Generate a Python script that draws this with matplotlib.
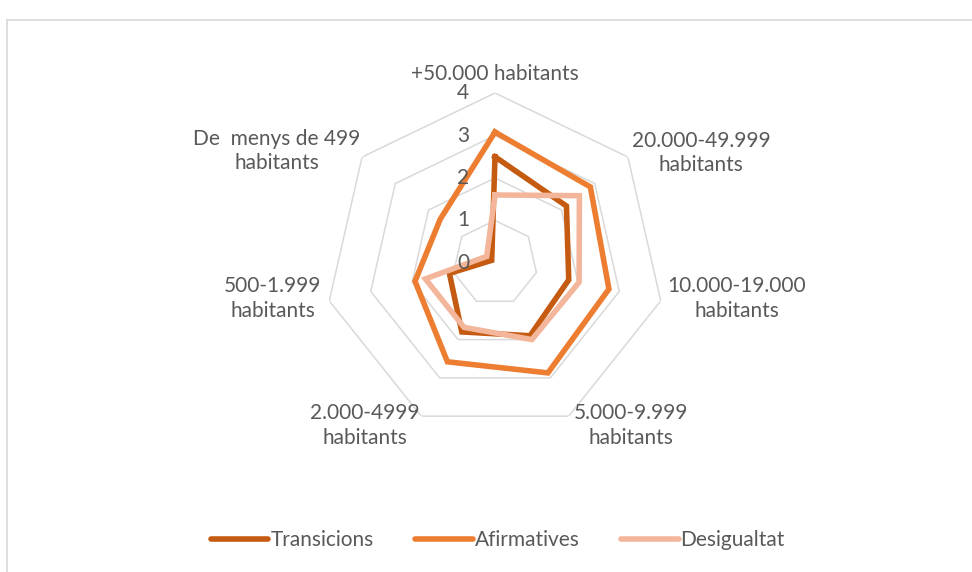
import numpy as np
import matplotlib
matplotlib.use('Agg')
import matplotlib.pyplot as plt
from matplotlib.lines import Line2D

# town-size groups, clockwise from the top
categories = ['+50.000 habitants', '20.000-49.999\nhabitants', '10.000-19.000\nhabitants',
              '5.000-9.999\nhabitants', '2.000-4999\nhabitants', '500-1.999\nhabitants',
              'De  menys de 499\nhabitants']

transicions = [2.5, 2.15, 1.78, 1.9, 1.8, 1.1, 0.1]
afirmatives = [3.08, 2.87, 2.75, 2.87, 2.58, 1.93, 1.65]
desigualtat = [1.6, 2.54, 2.03, 2.0, 1.68, 1.68, 0.25]

series_names = ['Transicions', 'Afirmatives', 'Desigualtat']
series_colors = ['#C55A11', '#ED7D31', '#F4B69A']
ticks = [0, 1, 2, 3, 4]

plt.rcParams['font.family'] = ['Lato', 'DejaVu Sans']
TXT = '#595959'
GRID = '#D9D9D9'
FS = 15

W, H = 972, 572
fig = plt.figure(figsize=(W / 100, H / 100), dpi=100)

# frame of the chart area (only top and left edges fall inside the image)
fig.add_artist(Line2D([7 / W, 7 / W], [0, 1 - 20 / H], color=GRID, lw=1.2))
fig.add_artist(Line2D([7 / W, 1], [1 - 20 / H, 1 - 20 / H], color=GRID, lw=1.2))

cx, cy, rad = 495, 263, 170
ax = fig.add_axes([(cx - rad) / W, (H - cy - rad) / H, 2 * rad / W, 2 * rad / H],
                  projection='polar')
ax.set_theta_offset(np.pi / 2)
ax.set_theta_direction(-1)
ax.set_ylim(0, 4)
ax.grid(False)
ax.set_xticks([])
ax.set_yticks([])
ax.spines['polar'].set_visible(False)
ax.patch.set_alpha(0)

n = len(categories)
theta = np.arange(n) * 2 * np.pi / n
theta_c = np.append(theta, theta[0])

# heptagon gridlines
for t in ticks[1:]:
    ax.plot(theta_c, [t] * (n + 1), color=GRID, lw=1.1, zorder=1)

for vals, name, col in zip([transicions, afirmatives, desigualtat], series_names, series_colors):
    v = np.append(vals, vals[0])
    ax.plot(theta_c, v, color=col, lw=4, label=name, zorder=3, solid_joinstyle='miter')

# value axis labels
for t in ticks:
    ax.annotate(str(t), xy=(0, t), xytext=(-32, 0), textcoords='offset pixels',
                ha='center', va='center', fontsize=FS, color=TXT)

# category labels
label_pos = [((0, 9), 'center', 'bottom'),
             ((4, 4), 'left', 'center'),
             ((7, 2), 'left', 'center'),
             ((5, 13), 'left', 'top'),
             ((-2, 13), 'right', 'top'),
             ((-8, 2), 'right', 'center'),
             ((-2, 6), 'right', 'center')]
for th, lab, (off, ha, va) in zip(theta, categories, label_pos):
    ax.annotate(lab, xy=(th, 4), xytext=(off[0], off[1]), textcoords='offset pixels',
                ha=ha, va=va, multialignment='center', fontsize=FS, color=TXT,
                linespacing=1.3, annotation_clip=False)

handles = [Line2D([], [], color=c, lw=4, solid_capstyle='round') for c in series_colors]
fig.legend(handles, series_names, loc='center', bbox_to_anchor=(498 / W, 1 - 540 / H),
           ncol=3, frameon=False, fontsize=FS, handlelength=2.75, handletextpad=0.1,
           columnspacing=2.0, labelcolor=TXT)

fig.savefig('out.png', dpi=100, facecolor='white')
